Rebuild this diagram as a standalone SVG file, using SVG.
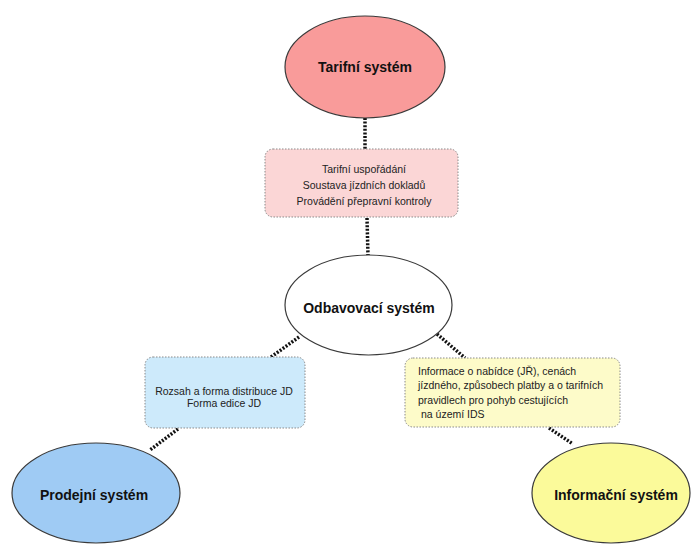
<svg xmlns="http://www.w3.org/2000/svg" width="691" height="545" viewBox="0 0 691 545">
<style>
.ell{stroke:#3a3a3a;stroke-width:1.2}
.box{stroke:#8a8a8a;stroke-width:1;stroke-dasharray:1.5 1.5}
.con{stroke:#111;stroke-width:3.5;stroke-dasharray:2 1.6;fill:none}
.lbl{font-family:"Liberation Sans",Arial,sans-serif;font-weight:bold;font-size:14px;fill:#111;text-anchor:middle}
.txt{font-family:"Liberation Sans",Arial,sans-serif;font-size:10.5px;fill:#222}
.c{text-anchor:middle}
</style>
<rect width="691" height="545" fill="#fff"/>
<g id="connectors">
<line class="con" x1="365" y1="118" x2="365" y2="149"/>
<line class="con" x1="367" y1="218" x2="368" y2="256"/>
<line class="con" x1="299" y1="337" x2="271" y2="357"/>
<line class="con" x1="178" y1="429" x2="150" y2="450"/>
<line class="con" x1="437" y1="334" x2="465" y2="358"/>
<line class="con" x1="549" y1="428" x2="573" y2="444"/>
</g>
<g id="tarifni">
<ellipse class="ell" cx="365" cy="67" rx="80" ry="51" fill="#f99b9a"/>
<text class="lbl" x="365" y="72">Tarifní systém</text>
</g>
<g id="tarif-box">
<rect class="box" x="265" y="149" width="193" height="68" rx="8" fill="#fbd6d6"/>
<text class="txt c" x="364" y="173">Tarifní uspořádání</text>
<text class="txt c" x="364" y="189">Soustava jízdních dokladů</text>
<text class="txt c" x="364" y="205">Provádění přepravní kontroly</text>
</g>
<g id="odbavovaci">
<ellipse class="ell" cx="368.5" cy="305" rx="83.5" ry="50" fill="#fff"/>
<text class="lbl" x="369" y="313">Odbavovací systém</text>
</g>
<g id="prodej-box">
<rect class="box" x="145" y="357" width="160" height="71" rx="8" fill="#cdeafb"/>
<text class="txt c" x="224" y="395">Rozsah a forma distribuce JD</text>
<text class="txt c" x="224" y="407">Forma edice JD</text>
</g>
<g id="info-box">
<rect class="box" x="405" y="358" width="215" height="69" rx="8" fill="#fdfbc9"/>
<text class="txt" x="418" y="375">Informace o nabídce (JŘ), cenách</text>
<text class="txt" x="418" y="389">jízdného, způsobech platby a o tarifních</text>
<text class="txt" x="418" y="404">pravidlech pro pohyb cestujících</text>
<text class="txt" x="421" y="418">na území IDS</text>
</g>
<g id="prodejni">
<ellipse class="ell" cx="96" cy="493" rx="84" ry="50" fill="#9fcbf4"/>
<text class="lbl" x="94" y="500">Prodejní systém</text>
</g>
<g id="informacni">
<ellipse class="ell" cx="611" cy="493" rx="79" ry="50" fill="#fbfa9a"/>
<text class="lbl" x="616" y="500">Informační systém</text>
</g>
</svg>
